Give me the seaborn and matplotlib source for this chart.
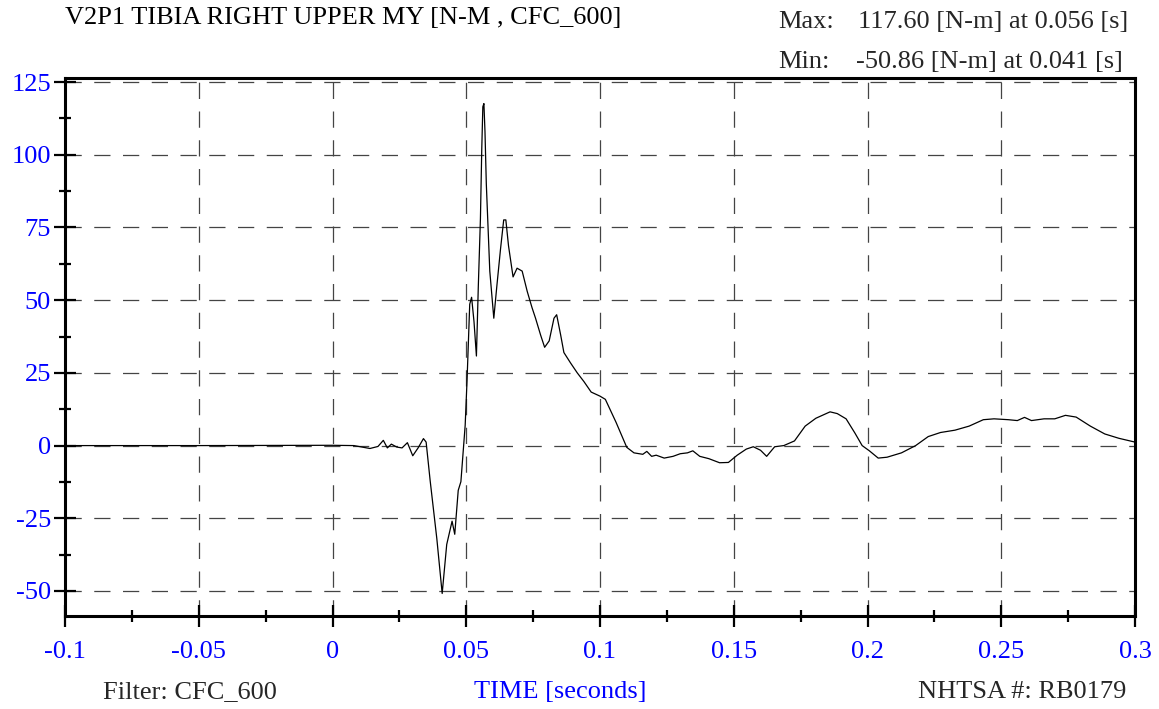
import numpy as np
import pandas as pd
import matplotlib
matplotlib.use("Agg")
import matplotlib.pyplot as plt
import seaborn as sns
from matplotlib.ticker import MultipleLocator, FixedLocator, FixedFormatter

sns.set_theme(style="white")
plt.rcParams['font.family'] = ['Liberation Serif', 'DejaVu Serif']

# ---------------------------------------------------------------------
# data (time [s], moment [N-m])
# ---------------------------------------------------------------------
time_s = [
    -0.100, -0.050, 0.000, 0.008, 0.014, 0.017, 0.019, 0.0205, 0.022, 0.024,
    0.026, 0.028, 0.030, 0.032, 0.034, 0.035, 0.0365, 0.039, 0.041, 0.0427,
    0.0447, 0.0457, 0.047, 0.048, 0.0496, 0.0503, 0.0513, 0.052, 0.0529, 0.0538,
    0.0545, 0.0553, 0.0558, 0.0562, 0.0566, 0.057, 0.0575, 0.0588, 0.0603, 0.0614,
    0.0628, 0.064, 0.0648, 0.0658, 0.0675, 0.069, 0.0709, 0.0728, 0.0746, 0.0759,
    0.0778, 0.0793, 0.081, 0.0828, 0.0838, 0.0853, 0.0865, 0.089, 0.0915, 0.094,
    0.0967, 0.100, 0.102, 0.106, 0.110, 0.1127, 0.116, 0.1175, 0.1193, 0.121,
    0.124, 0.1273, 0.130, 0.1327, 0.1347, 0.1373, 0.1407, 0.1447, 0.148, 0.1513,
    0.1547, 0.1573, 0.160, 0.1623, 0.1653, 0.1687, 0.1727, 0.1767, 0.1807, 0.186,
    0.1887, 0.192, 0.1953, 0.198, 0.2007, 0.204, 0.2073, 0.2127, 0.218, 0.2227,
    0.2273, 0.2327, 0.238, 0.2433, 0.2473, 0.2527, 0.256, 0.2587, 0.2613, 0.266,
    0.270, 0.274, 0.278, 0.2833, 0.2887, 0.294, 0.300,
]
moment_nm = [
    0.0, 0.0, 0.1, 0.0, -1.0, -0.3, 1.8, -0.8, 0.5, -0.5,
    -0.8, 1.0, -3.5, -0.8, 2.4, 1.2, -12.0, -32.0, -50.86, -34.0,
    -26.0, -30.5, -15.4, -12.4, 7.0, 22.5, 48.6, 51.0, 42.6, 30.8,
    54.5, 78.0, 102.0, 116.5, 117.6, 108.0, 90.0, 60.0, 43.8, 54.5,
    67.5, 77.6, 77.6, 68.7, 58.0, 61.0, 60.0, 53.0, 47.4, 43.8,
    38.0, 33.8, 36.0, 43.8, 45.0, 38.0, 32.0, 28.4, 25.0, 22.0,
    18.4, 17.0, 15.9, 8.0, -0.6, -2.5, -3.0, -2.0, -3.7, -3.3,
    -4.3, -3.7, -2.8, -2.5, -1.8, -3.7, -4.5, -5.9, -5.8, -3.3,
    -1.2, -0.4, -1.6, -3.7, -0.4, 0.0, 1.6, 6.7, 9.4, 11.6,
    11.0, 9.2, 4.3, 0.0, -1.8, -4.3, -4.0, -2.5, 0.0, 3.1,
    4.5, 5.3, 6.7, 8.9, 9.2, 8.9, 8.6, 9.7, 8.6, 9.2,
    9.2, 10.4, 9.8, 6.7, 4.0, 2.5, 1.2,
]

x_ticks = [-0.1, -0.05, 0, 0.05, 0.1, 0.15, 0.2, 0.25, 0.3]
x_tick_labels = ["-0.1", "-0.05", "0", "0.05", "0.1", "0.15", "0.2", "0.25", "0.3"]
y_ticks = [-50, -25, 0, 25, 50, 75, 100, 125]
y_tick_labels = ["-50", "-25", "0", "25", "50", "75", "100", "125"]

title = "V2P1 TIBIA RIGHT UPPER MY [N-M , CFC_600]"
max_text = "117.60 [N-m] at 0.056 [s]"
min_text = "-50.86 [N-m] at 0.041 [s]"

df = pd.DataFrame({"time": time_s, "moment": moment_nm})

# ---------------------------------------------------------------------
# figure
# ---------------------------------------------------------------------
W, H = 1159, 709
FS = 19
fig = plt.figure(figsize=(W / 100, H / 100), dpi=100)
ax = fig.add_axes([65 / W, 1 - 616 / H, (1135 - 65) / W, (616 - 78) / H])

sns.lineplot(data=df, x="time", y="moment", ax=ax, color="black", linewidth=0.9)

ax.set_xlim(-0.1, 0.3)
ax.set_ylim(-58.6, 126.4)

ax.xaxis.set_major_locator(FixedLocator(x_ticks))
ax.xaxis.set_major_formatter(FixedFormatter(x_tick_labels))
ax.xaxis.set_minor_locator(MultipleLocator(0.025))
ax.yaxis.set_major_locator(FixedLocator(y_ticks))
ax.yaxis.set_major_formatter(FixedFormatter(y_tick_labels))
ax.yaxis.set_minor_locator(MultipleLocator(12.5))

ax.tick_params(which="major", direction="inout", length=16, width=1.6,
               colors="black", labelcolor="blue", labelsize=FS)
ax.tick_params(axis="x", which="major", pad=10)
ax.tick_params(axis="y", which="major", pad=2)
ax.tick_params(which="minor", direction="inout", length=8.5, width=1.6, colors="black")
ax.tick_params(bottom=True, left=True, top=False, right=False)
ax.tick_params(which="minor", bottom=True, left=True, top=False, right=False)

for side in ["left", "right", "top", "bottom"]:
    ax.spines[side].set_visible(True)
    ax.spines[side].set_color("black")
    ax.spines[side].set_linewidth(2.2)

ax.grid(True, which="major", color="#444444", linestyle=(0, (13, 10)), linewidth=0.9)
ax.set_axisbelow(True)
ax.set_xlabel("")
ax.set_ylabel("")

# header / footer texts
fig.text(65 / W, 1 - 18 / H, title, fontsize=FS, color="black", ha="left", va="center")
fig.text(778 / W, 1 - 22 / H, "Max:", fontsize=FS, ha="left", va="center")
fig.text(858 / W, 1 - 22 / H, max_text, fontsize=FS, ha="left", va="center")
fig.text(778 / W, 1 - 62 / H, "Min:", fontsize=FS, ha="left", va="center")
fig.text(856 / W, 1 - 62 / H, min_text, fontsize=FS, ha="left", va="center")

fig.text(103 / W, 1 - 692 / H, "Filter: CFC_600", fontsize=FS, ha="left", va="center")
fig.text(560 / W, 1 - 692 / H, "TIME [seconds]", fontsize=FS, color="blue", ha="center", va="center")
fig.text(1126 / W, 1 - 692 / H, "NHTSA #: RB0179", fontsize=FS, ha="right", va="center")

fig.savefig("out.png", dpi=100)
